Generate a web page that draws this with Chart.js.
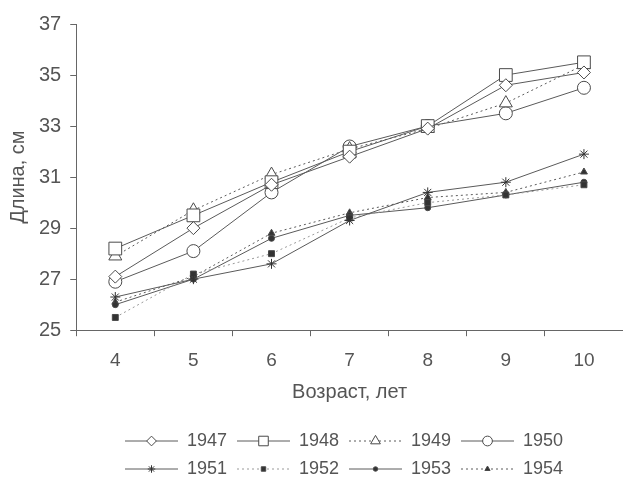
<!DOCTYPE html>
<html>
<head>
<meta charset="utf-8">
<script src="https://cdn.jsdelivr.net/npm/chart.js@4/dist/chart.umd.min.js"></script>
<style>
  html, body { margin: 0; padding: 0; background: #fff; }
  #wrap { width: 623px; height: 478px; }
</style>
</head>
<body>
<div id="wrap"><canvas id="grafica" width="623" height="478"></canvas></div>
<script>
// возраст, лет
var vozrast = ['4', '5', '6', '7', '8', '9', '10']
var godY = ['1947', '1948', '1949', '1950', '1951', '1952', '1953', '1954']

// длина, см по годам
var d1947 = [27.1, 29.0, 30.7, 31.8, 32.9, 34.6, 35.1]
var d1948 = [28.2, 29.5, 30.8, 32.0, 33.0, 35.0, 35.5]
var d1949 = [27.9, 29.7, 31.1, 32.1, 32.9, 33.9, 35.4]
var d1950 = [26.9, 28.1, 30.4, 32.2, 33.0, 33.5, 34.5]
var d1951 = [26.3, 27.0, 27.6, 29.3, 30.4, 30.8, 31.9]
var d1952 = [25.5, 27.2, 28.0, 29.4, 30.0, 30.3, 30.7]
var d1953 = [26.0, 27.0, 28.6, 29.5, 29.8, 30.3, 30.8]
var d1954 = [26.1, 27.1, 28.8, 29.6, 30.2, 30.4, 31.2]

var yMin = 25, yMax = 37, yStep = 2

var gris = '#4a4a4a'
var texto = '#555'
var fuente = 'Liberation Sans, Arial, sans-serif'

function serie(label, data, estilo, r, relleno, punteado, colorLinea) {
  return {
    label: label,
    data: data,
    borderColor: colorLinea || '#5a5a5a',
    borderWidth: 1,
    borderDash: punteado ? [2, 3] : [],
    pointStyle: estilo,
    pointRadius: r,
    pointHoverRadius: r,
    pointBorderColor: gris,
    pointBorderWidth: 1,
    pointBackgroundColor: relleno ? '#333' : '#fff',
    tension: 0,
    fill: false
  }
}

var datasets = [
  serie(godY[0], d1947, 'rectRot', 6.5, false, false),
  serie(godY[1], d1948, 'rect', 9, false, false),
  serie(godY[2], d1949, 'triangle', 7.5, false, true),
  serie(godY[3], d1950, 'circle', 6.5, false, false),
  serie(godY[4], d1951, 'star', 5, false, false),
  serie(godY[5], d1952, 'rect', 4.2, true, true, '#999'),
  serie(godY[6], d1953, 'circle', 3, true, false),
  serie(godY[7], d1954, 'triangle', 4, true, true)
]
datasets[4].pointBorderColor = '#333'

// leyenda dibujada a mano: linea + marcador + texto, 2 filas x 4
var leyenda = {
  id: 'leyenda',
  afterDraw: function(chart) {
    var ctx = chart.ctx
    var x0 = 125, colW = 112, filas = [441, 469], lineW = 53
    chart.data.datasets.forEach(function(ds, i) {
      var col = i % 4, fila = Math.floor(i / 4)
      var x = x0 + col * colW, y = filas[fila]
      ctx.save()
      ctx.strokeStyle = ds.borderColor
      ctx.lineWidth = 1
      ctx.setLineDash(ds.borderDash)
      ctx.beginPath()
      ctx.moveTo(x, y)
      ctx.lineTo(x + lineW, y)
      ctx.stroke()
      ctx.setLineDash([])
      ctx.strokeStyle = ds.pointBorderColor
      ctx.fillStyle = ds.pointBackgroundColor
      var r = ds.pointRadius * 0.75
      Chart.helpers.drawPoint(ctx, { pointStyle: ds.pointStyle, radius: r, borderWidth: 1, rotation: 0 }, x + lineW / 2, y)
      ctx.fillStyle = texto
      ctx.font = '18px ' + fuente
      ctx.textBaseline = 'middle'
      ctx.textAlign = 'left'
      ctx.fillText(ds.label, x + lineW + 9, y)
      ctx.restore()
    })
  }
}

var ctx = document.getElementById('grafica')

var grafica = new Chart(ctx, {
  type: 'line',
  data: { labels: vozrast, datasets: datasets },
  options: {
    responsive: false,
    animation: false,
    layout: { autoPadding: false, padding: { left: 6, right: 0, top: 24, bottom: 74 } },
    plugins: {
      legend: { display: false },
      tooltip: { enabled: false }
    },
    scales: {
      x: {
        type: 'category',
        offset: true,
        // el eje llega hasta el borde derecho, como en el original
        afterFit: function(s) { s.paddingRight = 0; s.paddingLeft = 0 },
        grid: { offset: true, drawOnChartArea: false, tickLength: 6, color: '#666' },
        border: { color: '#666', width: 1 },
        ticks: { color: texto, font: { family: fuente, size: 19 }, padding: 13 },
        title: { display: true, text: 'Возраст, лет', color: texto, font: { family: fuente, size: 20 }, padding: { top: -5, bottom: 0 } }
      },
      y: {
        min: yMin,
        max: yMax,
        grid: { drawOnChartArea: false, tickLength: 6, color: '#666' },
        border: { color: '#666', width: 1 },
        ticks: { stepSize: yStep, color: texto, font: { family: fuente, size: 20 }, padding: 9 },
        title: { display: true, text: 'Длина, см', color: texto, font: { family: fuente, size: 20 }, padding: { top: 0, bottom: 0 } }
      }
    }
  },
  plugins: [leyenda]
})
</script>
</body>
</html>
